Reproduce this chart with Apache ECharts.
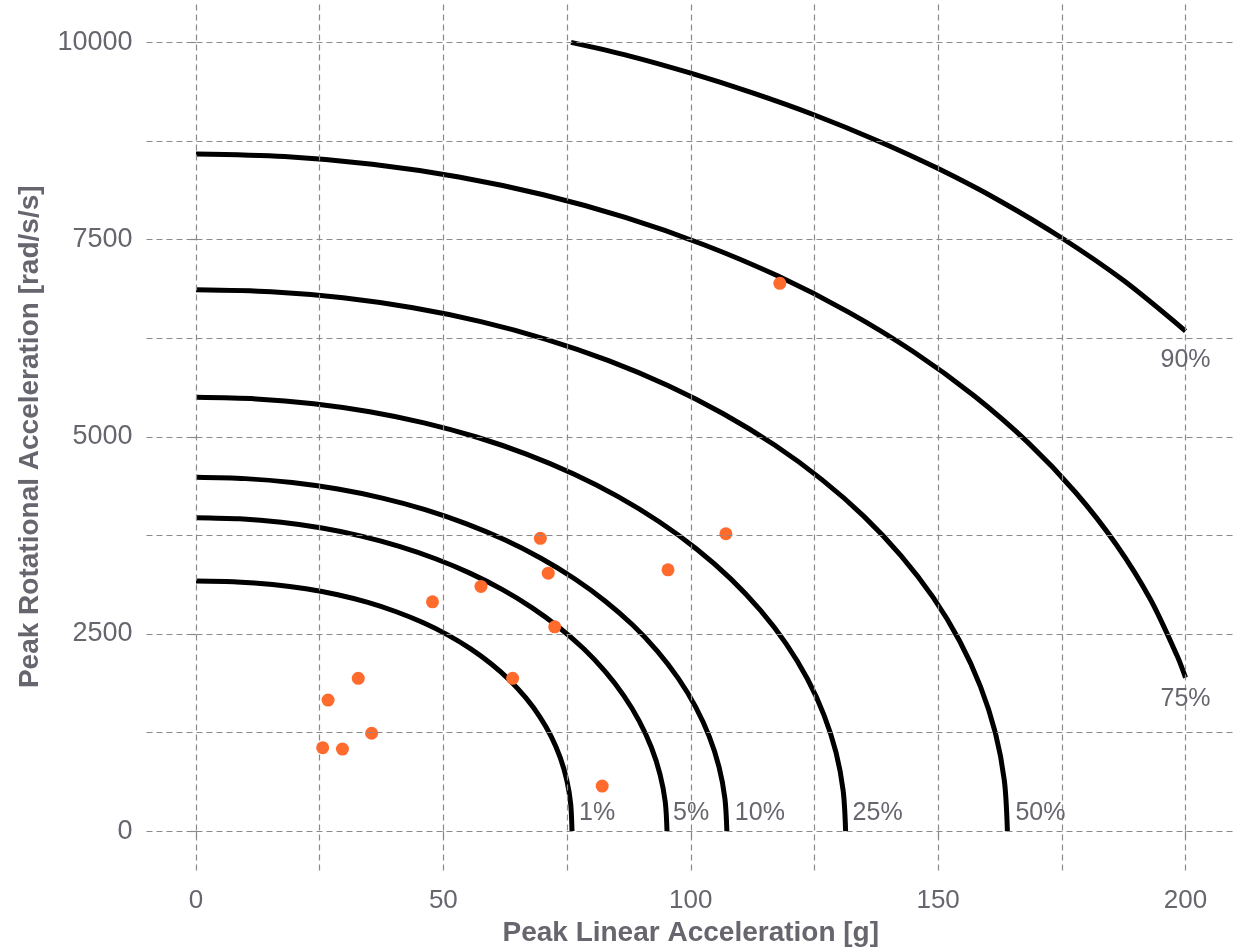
<!DOCTYPE html>
<html>
<head>
<meta charset="utf-8">
<title>Injury risk curves</title>
<script src="https://cdn.jsdelivr.net/npm/echarts@6/dist/echarts.min.js"></script>
<style>
  html, body { margin: 0; padding: 0; background: #ffffff; }
  #chart { width: 1238px; height: 949px; }
</style>
</head>
<body>
<div id="chart"></div>
<script>
// Risk levels, one iso-risk curve per level
const riskLevels = ['1%', '5%', '10%', '25%', '50%', '75%', '90%'];

// Iso-risk curves: [peak linear acceleration (g), peak rotational acceleration (rad/s/s)]
const curve1 = [[0, 3170], [8.28, 3159], [15.47, 3126], [22.24, 3072], [28.66, 2996], [34.74, 2899],
  [40.48, 2781], [45.86, 2644], [50.86, 2488], [55.46, 2313], [59.64, 2121], [63.40, 1913], [66.68, 1688],
  [69.50, 1449], [71.83, 1195], [73.64, 928], [74.95, 645], [75.73, 345], [76, 0]];
const curve5 = [[0, 3974], [8.82, 3959], [17.25, 3915], [25.46, 3842], [33.42, 3740], [41.09, 3610],
  [48.41, 3453], [55.36, 3271], [61.86, 3064], [67.89, 2834], [73.40, 2582], [78.37, 2311], [82.73, 2021],
  [86.49, 1715], [89.59, 1395], [92.03, 1063], [93.79, 720], [94.85, 368], [95.2, 0]];
const curve10 = [[0, 4486], [9.94, 4469], [19.44, 4420], [28.69, 4337], [37.67, 4222], [46.31, 4076],
  [54.56, 3898], [62.39, 3693], [69.72, 3459], [76.52, 3199], [82.73, 2915], [88.33, 2609], [93.24, 2281],
  [97.48, 1936], [100.98, 1575], [103.73, 1200], [105.71, 813], [106.90, 415], [107.3, 0]];
const curve25 = [[0, 5500], [12.16, 5480], [23.79, 5419], [35.11, 5317], [46.10, 5176], [56.67, 4997],
  [66.77, 4780], [76.35, 4528], [85.32, 4241], [93.63, 3922], [101.23, 3574], [108.09, 3198], [114.10, 2797],
  [119.29, 2374], [123.57, 1931], [126.93, 1471], [129.36, 997], [130.81, 509], [131.3, 0]];
const curve50 = [[0, 6864], [15.19, 6839], [29.72, 6762], [43.85, 6635], [57.58, 6460], [70.78, 6236],
  [83.39, 5965], [95.37, 5650], [106.57, 5292], [116.95, 4895], [126.44, 4460], [135.00, 3991],
  [142.52, 3490], [148.99, 2963], [154.34, 2410], [158.54, 1835], [161.57, 1244], [163.39, 636], [164, 0]];
const curve75 = [[0, 8586], [17.90, 8553], [35.64, 8455], [53.13, 8293], [70.21, 8068], [86.76, 7781],
  [102.65, 7435], [117.76, 7034], [131.97, 6577], [145.17, 6071], [157.26, 5519], [168.18, 4925],
  [177.79, 4293], [186.06, 3628], [192.92, 2936], [198.30, 2222], [200, 1946]];
const curve90 = [[75.8, 10000], [87.5, 9830], [100, 9610], [112.5, 9360], [125, 9080], [137.5, 8760],
  [150, 8400], [162.5, 7990], [175, 7520], [187.5, 6980], [200, 6340]];

// Measured impacts
const impacts = [[118.0, 6945], [69.6, 3712], [107.1, 3770], [95.4, 3312], [71.2, 3270], [57.6, 3102],
  [47.8, 2907], [72.5, 2590], [64.0, 1937], [32.8, 1937], [26.7, 1661], [35.5, 1240], [25.6, 1057],
  [29.6, 1040], [82.1, 571]];

// Axis ticks and grid lines
const xTickLabels = [0, 50, 100, 150, 200];
const yTickLabels = [0, 2500, 5000, 7500, 10000];
const xGridValues = [0, 25, 50, 75, 100, 125, 150, 175, 200];
const yGridValues = [0, 1250, 2500, 3750, 5000, 6250, 7500, 8750, 10000];

const curves = [curve1, curve5, curve10, curve25, curve50, curve75, curve90];

const FONT = '"Liberation Sans", Arial, Helvetica, sans-serif';
const TEXT = '#67656d';
const GRID = '#8a8a8a';
const DASH = [6, 4];

// Label placement for each curve end: beside the foot, or under the end for the two curves
// that leave the plot on the right
const labelPlacement = [
  { position: 'right', distance: 7, offset: [0, -18] },
  { position: 'right', distance: 6, offset: [0, -18] },
  { position: 'right', distance: 8, offset: [0, -18] },
  { position: 'right', distance: 7, offset: [0, -18] },
  { position: 'right', distance: 8, offset: [0, -18] },
  { position: 'bottom', distance: 9, offset: [0, 0] },
  { position: 'bottom', distance: 17, offset: [0, 0] }
];

const chart = echarts.init(document.getElementById('chart'), null, { renderer: 'canvas' });

const series = [];

// Dashed grid (major and minor lines look alike)
series.push({
  type: 'line',
  data: [],
  silent: true,
  z: 1,
  markLine: {
    silent: true,
    animation: false,
    symbol: ['none', 'none'],
    label: { show: false },
    emphasis: { disabled: true },
    lineStyle: { color: GRID, width: 1.2, type: DASH },
    data: xGridValues.map(v => ({ xAxis: v })).concat(yGridValues.map(v => ({ yAxis: v })))
  }
});

curves.forEach((pts, i) => {
  series.push({
    name: riskLevels[i],
    type: 'line',
    data: pts,
    showSymbol: false,
    smooth: 0.3,
    z: 3,
    silent: true,
    lineStyle: { color: '#000000', width: 5, cap: 'butt', join: 'round' }
  });
});

series.push({
  type: 'scatter',
  data: impacts,
  symbol: 'circle',
  symbolSize: 13,
  z: 4,
  itemStyle: { color: '#ff6a2d', opacity: 1 }
});

// Curve labels at the last point of each curve
series.push({
  type: 'scatter',
  symbolSize: 0,
  z: 5,
  silent: true,
  data: curves.map((pts, i) => ({
    value: pts[pts.length - 1],
    name: riskLevels[i],
    label: Object.assign({ color: TEXT, opacity: 1 }, labelPlacement[i])
  })),
  label: {
    show: true,
    formatter: p => p.name,
    fontFamily: FONT,
    fontSize: 25,
    color: TEXT
  }
});

chart.setOption({
  animation: false,
  backgroundColor: '#ffffff',
  grid: { left: 146.5, right: 3, top: 3, bottom: 78.5, containLabel: false, outerBoundsMode: 'none' },
  xAxis: {
    type: 'value',
    min: -10,
    max: 210,
    name: 'Peak Linear Acceleration [g]',
    nameLocation: 'middle',
    nameGap: 49,
    nameTextStyle: { fontFamily: FONT, fontSize: 28, fontWeight: 'bold', color: TEXT },
    axisLine: { show: false },
    splitLine: { show: false },
    axisTick: { show: true, customValues: xTickLabels, length: 8, lineStyle: { color: GRID, width: 1.2, type: DASH } },
    axisLabel: { customValues: xTickLabels, formatter: v => String(v), fontFamily: FONT, fontSize: 26, color: TEXT, margin: 17 }
  },
  yAxis: {
    type: 'value',
    min: -500,
    max: 10500,
    name: 'Peak Rotational Acceleration [rad/s/s]',
    nameLocation: 'middle',
    nameGap: 102,
    nameRotate: 90,
    nameTextStyle: { fontFamily: FONT, fontSize: 28, fontWeight: 'bold', color: TEXT },
    axisLine: { show: false },
    splitLine: { show: false },
    axisTick: { show: true, customValues: yTickLabels, length: 9, lineStyle: { color: GRID, width: 1.2, type: DASH } },
    axisLabel: { customValues: yTickLabels, formatter: v => String(v), fontFamily: FONT, fontSize: 27, color: TEXT, margin: 14 }
  },
  series: series
});
</script>
</body>
</html>
